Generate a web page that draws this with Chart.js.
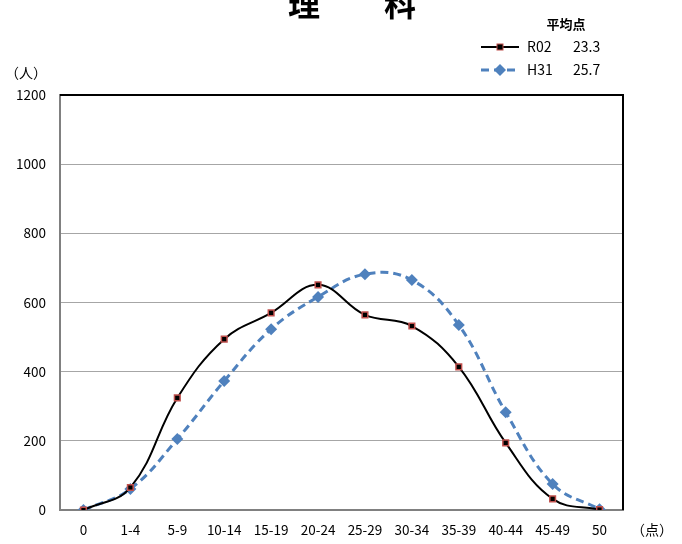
<!DOCTYPE html>
<html lang="ja">
<head>
  <meta charset="UTF-8">
  <title>理科 得点分布</title>
  <script src="https://cdn.jsdelivr.net/npm/chart.js"></script>
  <style>
    html, body { margin: 0; padding: 0; background: #fff; }
    #wrap { width: 682px; height: 544px; position: relative; }
  </style>
</head>
<body>
  <div id="wrap"><canvas id="chart"></canvas></div>

  <script>
    const categories = ["0", "1-4", "5-9", "10-14", "15-19", "20-24", "25-29", "30-34", "35-39", "40-44", "45-49", "50"];
    const r02Values = [0, 65, 324, 494, 570, 651, 564, 532, 414, 194, 32, 1];
    const h31Values = [0, 61, 205, 373, 523, 616, 682, 665, 535, 283, 75, 2];
    const seriesNames = ["R02", "H31"];
    const averages = ["23.3", "25.7"];
    const yTicks = [0, 200, 400, 600, 800, 1000, 1200];

    const font = '"Noto Sans CJK JP", "Noto Sans", sans-serif';

    // title, unit labels, legend and frame drawn by hand
    const extras = {
      id: 'extras',
      afterDraw(chart) {
        const ctx = chart.ctx;
        const area = chart.chartArea;
        ctx.save();

        // black frame on top and right
        ctx.strokeStyle = '#000';
        ctx.lineWidth = 2;
        ctx.beginPath();
        ctx.moveTo(area.left, area.top);
        ctx.lineTo(area.right, area.top);
        ctx.lineTo(area.right, area.bottom);
        ctx.stroke();

        ctx.fillStyle = '#000';
        ctx.font = 'bold 32px ' + font;
        ctx.textAlign = 'center';
        ctx.textBaseline = 'middle';
        ctx.fillText('理　　科', 352, 4);

        ctx.font = '14px ' + font;
        ctx.fillText('（人）', 26, 73);
        ctx.fillText('（点）', 652, 530);

        ctx.font = 'bold 13px ' + font;
        ctx.fillText('平均点', 566, 24);

        // legend, in R02 / H31 order
        ctx.font = '14px ' + font;
        ctx.textAlign = 'left';
        seriesNames.forEach((name, i) => {
          const ds = chart.data.datasets.find(d => d.label === name);
          const y = 47 + i * 23;
          ctx.strokeStyle = ds.borderColor;
          ctx.lineWidth = ds.borderWidth;
          ctx.setLineDash(ds.borderDash || []);
          ctx.beginPath();
          ctx.moveTo(481, y);
          ctx.lineTo(519, y);
          ctx.stroke();
          ctx.setLineDash([]);
          ctx.fillStyle = ds.pointBackgroundColor;
          ctx.strokeStyle = ds.pointBorderColor;
          ctx.lineWidth = 1;
          if (ds.pointStyle === 'rect') {
            ctx.fillRect(497, y - 3, 6, 6);
            ctx.strokeRect(497, y - 3, 6, 6);
          } else {
            ctx.beginPath();
            ctx.moveTo(500, y - 6);
            ctx.lineTo(506, y);
            ctx.lineTo(500, y + 6);
            ctx.lineTo(494, y);
            ctx.closePath();
            ctx.fill();
          }
          ctx.fillStyle = '#000';
          ctx.fillText(name, 527, y);
          ctx.fillText(averages[i], 573, y);
        });
        ctx.restore();
      }
    };

    new Chart(document.getElementById('chart'), {
      type: 'line',
      data: {
        labels: categories,
        datasets: [
          {
            label: seriesNames[1],
            data: h31Values,
            borderColor: '#4f81bd',
            borderWidth: 3,
            borderDash: [8, 5],
            tension: 0.4,
            pointStyle: 'rectRot',
            pointRadius: 6,
            pointBackgroundColor: '#4f81bd',
            pointBorderColor: '#4f81bd',
            pointBorderWidth: 0,
            order: 2
          },
          {
            label: seriesNames[0],
            data: r02Values,
            borderColor: '#000',
            borderWidth: 2,
            tension: 0.4,
            pointStyle: 'rect',
            pointRadius: 4,
            pointBackgroundColor: '#000',
            pointBorderColor: '#c0504d',
            pointBorderWidth: 1.5,
            order: 1
          }
        ]
      },
      options: {
        responsive: true,
        maintainAspectRatio: false,
        animation: false,
        layout: { padding: { top: 95, right: 59, bottom: 0, left: 0 } },
        plugins: { legend: { display: false }, tooltip: { enabled: false } },
        scales: {
          x: {
            offset: true,
            grid: { display: false, drawTicks: false },
            border: { color: '#808080', width: 2 },
            ticks: { color: '#000', font: { family: font, size: 13.5 }, padding: 12, maxRotation: 0, autoSkip: false },
            afterFit(s) { s.height = 34; }
          },
          y: {
            min: 0,
            max: 1200,
            afterBuildTicks(s) { s.ticks = yTicks.map(v => ({ value: v })); },
            grid: { color: '#a6a6a6', lineWidth: 1, drawTicks: false },
            border: { color: '#808080', width: 2 },
            ticks: {
              color: '#000',
              font: { family: font, size: 13.5 },
              padding: 14,
              callback: v => String(v)
            },
            afterFit(s) { s.width = 60; }
          }
        }
      },
      plugins: [extras]
    });
  </script>
</body>
</html>
